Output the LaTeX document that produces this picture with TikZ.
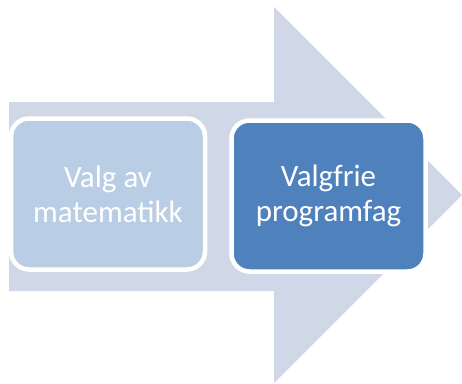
\documentclass[tikz,border=0pt]{standalone}
\usepackage{fontspec}
\setmainfont{Carlito}
\usepackage{tikz}
\usetikzlibrary{positioning}

\definecolor{arrowgray}{HTML}{D0D8E8}
\definecolor{lightblue}{HTML}{B9CDE5}
\definecolor{darkblue}{HTML}{4F81BD}

\begin{document}
\begin{tikzpicture}[x=1pt, y=-1pt,
    stepbox/.style={draw=white, line width=4.5pt, rounded corners=18pt, text=white, align=center, minimum width=194pt, minimum height=151pt, font=\fontsize{31}{35}\selectfont}]

    \useasboundingbox (0,0) rectangle (462,383);

    % Big background arrow
    \fill[arrowgray] (9,102) -- (274,102) -- (274,7) -- (462,195) -- (274,383) -- (274,291) -- (9,291) -- cycle;

    % Nodes for the two steps
    \node (matte) [stepbox, fill=lightblue] at (108,194) {Valg av\\matematikk};

    \node (programfag) [stepbox, fill=darkblue, right=22pt of matte, yshift=-2pt] {Valgfrie\\programfag};

\end{tikzpicture}
\end{document}
